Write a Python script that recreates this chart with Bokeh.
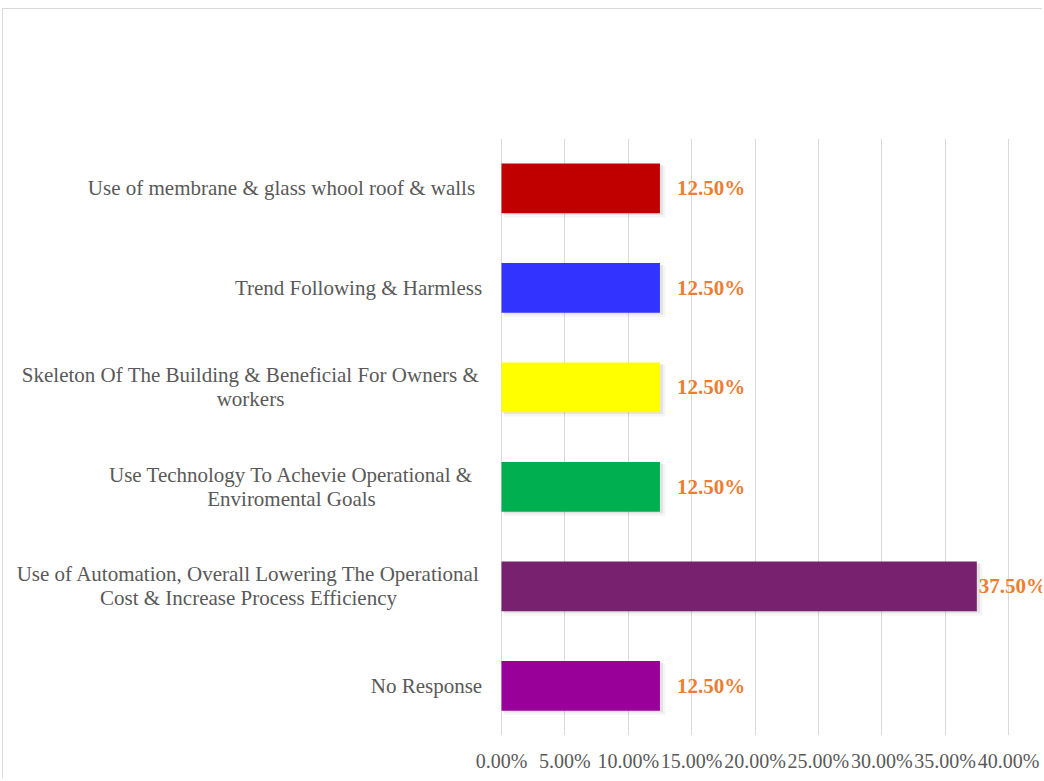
from bokeh.plotting import figure
from bokeh.models import ColumnDataSource, FactorRange, FixedTicker, NumeralTickFormatter, LabelSet, Range1d
from bokeh.transform import dodge
from bokeh.embed import file_html
from bokeh.resources import INLINE

# ---------------- data (top to bottom as shown) ----------------
categories = [
    "Use of membrane & glass whool roof & walls",
    "Trend Following & Harmless",
    "Skeleton Of The Building & Beneficial For Owners &\nworkers",
    "Use Technology To Achevie Operational &\nEnviromental Goals",
    "Use of Automation, Overall Lowering The Operational\nCost & Increase Process Efficiency",
    "No Response",
]
values = [0.125, 0.125, 0.125, 0.125, 0.375, 0.125]
value_labels = ["12.50%", "12.50%", "12.50%", "12.50%", "37.50%", "12.50%"]
bar_colors = ["#C00000", "#3333FF", "#FFFF00", "#00B050", "#77216F", "#990099"]
x_ticks = [0.0, 0.05, 0.10, 0.15, 0.20, 0.25, 0.30, 0.35, 0.40]

# ---------------- layout / style ----------------
FONT = "Liberation Serif"
W, H = 1040, 770
ML, MT = 2, 8            # page offsets of the chart box
ORIGIN_PX, END_PX = 501, 1008   # screen x of 0% and 40%
px_per_unit = (END_PX - ORIGIN_PX) / (x_ticks[-1] - x_ticks[0])
frame_left = ML + 1
frame_right = ML + 1 + W
x_start = (frame_left - ORIGIN_PX) / px_per_unit
x_end = (frame_right - ORIGIN_PX) / px_per_unit
BAND_PX = (735 - 138) / len(categories)
LINE_PX = 24

# horizontal centre of each category label block, in px left of the axis origin
cat_label_offsets = [-220, -143, -251, -210, -253, -75]
# data label gap from bar end (px); long bar label is pulled in
val_offsets = [17 if v < 0.3 else 2 for v in values]

src = ColumnDataSource(dict(
    cat=categories,
    value=values,
    color=bar_colors,
    label=value_labels,
    val_off=val_offsets,
    shadow_right=[v + 0.0025 for v in values],
    shadow_right2=[v + 0.0045 for v in values],
))

# one row per text line of each category label, lines centred on each other
ln_cat, ln_text, ln_xoff = [], [], []
for cat, off in zip(categories, cat_label_offsets):
    lines = cat.split("\n")
    n = len(lines)
    for i, t in enumerate(lines):
        ln_cat.append((cat, ((n - 1) / 2 - i) * LINE_PX / BAND_PX))
        ln_text.append(t)
        ln_xoff.append(off)
line_src = ColumnDataSource(dict(y=ln_cat, text=ln_text, xoff=ln_xoff,
                                 x=[0.0] * len(ln_text)))

p = figure(
    width=W, height=H,
    y_range=FactorRange(factors=list(reversed(categories))),
    x_range=Range1d(x_start, x_end),
    output_backend="svg", toolbar_location=None,
    min_border_left=0, min_border_right=0,
    min_border_top=138 - MT - 1, min_border_bottom=MT + 1 + H - 735,
)
p.styles = {"margin-top": f"{MT}px", "margin-left": f"{ML}px",
            "border-top": "1px solid #D9D9D9", "border-left": "1px solid #D9D9D9"}
p.outline_line_color = None
p.background_fill_color = "white"
p.border_fill_color = "white"

# soft shadows
p.hbar(y=dodge("cat", -0.035, range=p.y_range), left=0.002, right="shadow_right2", height=0.52,
       source=src, fill_color="black", fill_alpha=0.04, line_color=None)
p.hbar(y=dodge("cat", -0.02, range=p.y_range), left=0.0015, right="shadow_right", height=0.5,
       source=src, fill_color="black", fill_alpha=0.07, line_color=None)

p.hbar(y="cat", left=0, right="value", height=0.5, source=src,
       fill_color="color", line_color=None)

# axes & grid
p.yaxis.visible = False
p.ygrid.grid_line_color = None
p.xgrid.grid_line_color = "#D9D9D9"
p.xgrid.grid_line_width = 1
p.xaxis.ticker = FixedTicker(ticks=x_ticks)
p.xaxis.formatter = NumeralTickFormatter(format="0.00%")
p.xaxis.axis_line_color = None
p.xaxis.major_tick_line_color = None
p.xaxis.minor_tick_line_color = None
p.xaxis.major_label_text_font = FONT
p.xaxis.major_label_text_font_size = "20px"
p.xaxis.major_label_text_color = "#595959"
p.xaxis.major_label_standoff = 8

# category labels
cat_labels = LabelSet(x="x", y="y", text="text", x_offset="xoff", source=line_src,
                      text_align="center", text_baseline="middle",
                      text_font=FONT, text_font_size="21px", text_color="#595959")
p.add_layout(cat_labels)

# value labels
val_labels = LabelSet(x="value", y="cat", text="label", x_offset="val_off", source=src,
                      text_align="left", text_baseline="middle",
                      text_font=FONT, text_font_size="21px", text_font_style="bold",
                      text_color="#ED7D31")
p.add_layout(val_labels)

open("out.html", "w").write(file_html(p, INLINE))
